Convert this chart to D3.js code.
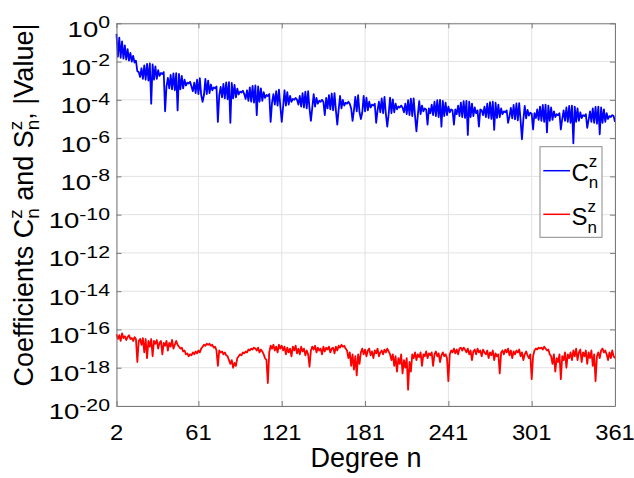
<!DOCTYPE html>
<html>
<head>
<meta charset="utf-8">
<script src="https://cdn.jsdelivr.net/npm/d3@7"></script>
<style>
body { margin: 0; background: #fff; }
svg { display: block; }
text { font-family: "Liberation Sans", Arial, sans-serif; fill: #000; }
</style>
</head>
<body>
<svg id="chart" width="634" height="478"></svg>
<script>
// degree axis
var nFirst = 2, nLast = 361;
var xTicks = [2, 61, 121, 181, 241, 301, 361];
// exponents of the y ticks (10^e)
var yTickExp = [0, -2, -4, -6, -8, -10, -12, -14, -16, -18, -20];

// log10 |C_n^z|, n = 2..361
var cExp = [
  // n 2-17
  -0.55,-1.75,-0.75,-1.8,-0.95,-1.85,-1.15,-1.9,-1.35,-1.95,-1.55,-2.0,-1.7,-2.05,-1.95,-2.5,
  // n 18-36
  -2.55,-2.8,-2.35,-2.9,-2.2,-2.95,-2.12,-3.0,-2.1,-4.2,-2.15,-2.95,-2.25,-2.9,-2.45,-2.75,-2.6,-2.65,-2.55,
  // n 37-55
  -4.6,-3.3,-2.85,-3.4,-2.7,-3.45,-2.62,-3.5,-2.6,-4.55,-2.65,-3.45,-2.75,-3.4,-2.95,-3.25,-3.1,-3.15,-3.05,
  // n 56-74
  -3.3,-3.55,-3.1,-3.65,-2.95,-3.7,-2.87,-3.75,-4.1,-3.75,-2.9,-3.7,-3.0,-3.65,-3.2,-3.5,-3.35,-3.4,-3.3,
  // n 75-93
  -5.15,-3.77,-3.32,-3.87,-3.17,-3.92,-3.09,-3.97,-3.07,-5.2,-3.12,-3.92,-3.22,-3.87,-3.42,-3.72,-3.57,-3.62,-3.52,
  // n 94-112
  -3.7,-3.95,-3.5,-4.05,-3.35,-4.1,-3.27,-4.15,-3.25,-4.8,-3.3,-4.1,-3.4,-4.05,-3.6,-3.9,-3.75,-3.8,-3.7,
  // n 113-131
  -5.15,-4.15,-3.7,-4.25,-3.55,-4.3,-3.47,-4.35,-5.15,-4.35,-3.5,-4.3,-3.6,-4.25,-3.8,-4.1,-3.95,-4.0,-3.9,
  // n 132-150
  -4.0,-4.25,-3.8,-4.35,-3.65,-4.4,-3.57,-4.45,-3.55,-4.45,-5.1,-4.4,-3.7,-4.35,-3.9,-4.2,-4.05,-4.1,-4.0,
  // n 151-169
  -4.1,-4.8,-3.9,-4.45,-3.75,-4.5,-3.67,-4.55,-3.65,-4.55,-5.3,-4.5,-3.8,-4.45,-4.0,-4.3,-4.15,-4.2,-4.1,
  // n 170-188
  -4.2,-4.45,-5.1,-4.55,-3.84,-4.6,-3.76,-4.65,-5.0,-4.65,-3.79,-4.6,-3.89,-4.55,-4.1,-4.4,-4.25,-4.3,-4.2,
  // n 189-207
  -5.2,-4.55,-4.1,-4.65,-3.93,-4.7,-3.85,-4.75,-5.4,-4.75,-3.88,-4.7,-3.98,-4.65,-4.2,-4.5,-4.35,-4.4,-4.3,
  // n 208-226
  -4.4,-4.65,-4.2,-4.75,-4.02,-4.8,-3.94,-4.85,-3.92,-4.85,-5.65,-4.8,-4.07,-4.75,-4.3,-4.6,-4.45,-4.5,-5.3,
  // n 227-245
  -4.45,-4.7,-4.25,-4.8,-4.1,-4.85,-4.02,-4.9,-4.0,-5.4,-4.05,-4.85,-4.15,-4.8,-4.35,-4.65,-4.5,-4.55,-5.3,
  // n 246-264
  -4.5,-4.75,-4.3,-4.85,-4.15,-4.9,-4.07,-4.95,-4.05,-5.83,-4.1,-4.9,-4.2,-4.85,-4.4,-4.7,-4.55,-5.4,-4.5,
  // n 265-283
  -4.55,-4.8,-4.35,-4.9,-4.2,-4.95,-4.12,-5.0,-4.1,-5.57,-4.15,-4.95,-4.25,-4.9,-4.45,-4.75,-4.6,-4.65,-4.55,
  // n 284-302
  -5.2,-4.87,-4.42,-4.97,-4.27,-5.02,-4.19,-5.07,-4.17,-5.07,-6.06,-5.02,-4.32,-4.97,-4.52,-4.82,-4.67,-4.72,-5.55,
  // n 303-321
  -4.7,-4.95,-4.5,-5.05,-4.35,-5.1,-4.27,-5.15,-4.25,-5.7,-4.3,-5.1,-4.4,-5.05,-4.6,-4.9,-4.75,-4.8,-4.7,
  // n 322-340
  -5.55,-5.0,-4.55,-5.1,-4.4,-5.15,-4.32,-5.2,-4.3,-6.27,-4.35,-5.15,-4.45,-5.1,-4.65,-4.95,-4.8,-4.85,-4.75,
  // n 341-359
  -5.47,-5.05,-4.6,-5.15,-4.45,-5.2,-4.37,-5.25,-4.35,-5.8,-4.4,-5.2,-4.5,-5.15,-4.7,-5.0,-4.85,-4.9,-4.8,
  // n 360-361
  -4.85,-5.15
];

// log10 |S_n^z|, n = 2..361
var sExp = [
  -16.25,-16.5,-16.3,-16.6,-16.2,-16.45,-16.35,-16.55,-16.4,-16.3,     // 2-11
  -16.5,-16.45,-16.6,-16.4,-16.5,-17.7,-16.6,-16.5,-16.8,-16.45,       // 12-21
  -17.2,-16.5,-17.5,-16.6,-16.9,-16.5,-17.4,-16.6,-16.75,-16.55,       // 22-31
  -17.0,-16.7,-16.6,-17.3,-16.7,-16.85,-16.6,-17.1,-16.7,-16.9,        // 32-41
  -16.55,-17.0,-16.8,-16.6,-16.8,-16.9,-17.0,-16.95,-17.15,-17.1,      // 42-51
  -17.3,-17.25,-17.4,-17.3,-17.35,-17.2,-17.3,-17.15,-17.25,-17.1,     // 52-61
  -17.2,-17.0,-16.9,-16.8,-16.85,-16.75,-16.8,-16.75,-16.85,-16.8,     // 62-71
  -16.95,-16.9,-17.1,-17.9,-17.1,-17.2,-17.15,-17.3,-17.2,-17.35,      // 72-81
  -17.4,-17.6,-17.8,-17.6,-18.0,-17.75,-17.9,-17.5,-17.4,-17.3,        // 82-91
  -17.35,-17.2,-17.25,-17.15,-17.2,-17.05,-17.1,-17.0,-17.05,-16.95,   // 92-101
  -17.0,-17.1,-16.95,-17.2,-17.05,-17.15,-17.3,-17.5,-17.6,-18.8,      // 102-111
  -17.2,-16.85,-17.0,-16.8,-17.1,-16.9,-17.2,-16.8,-17.0,-16.85,       // 112-121
  -17.1,-16.9,-17.3,-16.95,-17.2,-17.0,-17.4,-16.9,-17.1,-16.85,       // 122-131
  -17.25,-17.0,-17.3,-16.9,-17.15,-17.0,-17.35,-17.1,-17.3,-17.95,     // 132-141
  -17.1,-16.9,-17.05,-16.85,-17.2,-16.95,-17.1,-17.0,-17.3,-16.9,      // 142-151
  -17.15,-16.95,-17.05,-16.9,-17.2,-17.0,-16.95,-17.25,-16.9,-17.1,    // 152-161
  -16.85,-16.95,-16.8,-16.9,-16.85,-17.0,-17.1,-17.5,-17.2,-17.9,      // 162-171
  -17.3,-18.1,-17.4,-18.4,-17.3,-17.8,-17.2,-17.0,-17.3,-17.05,        // 172-181
  -17.4,-17.1,-17.0,-17.35,-17.15,-17.5,-17.1,-17.25,-17.0,-17.4,      // 182-191
  -17.2,-17.1,-17.3,-17.05,-17.2,-17.0,-17.15,-17.3,-17.6,-17.3,       // 192-201
  -17.9,-17.4,-18.2,-17.5,-17.8,-17.3,-18.3,-17.6,-18.0,-17.5,         // 202-211
  -19.15,-17.7,-18.2,-17.3,-17.5,-17.2,-17.6,-17.3,-17.45,-17.2,       // 212-221
  -17.9,-17.3,-17.4,-17.15,-17.5,-17.25,-17.35,-17.2,-17.9,-17.3,      // 222-231
  -17.15,-17.4,-17.25,-17.7,-17.35,-17.2,-17.4,-17.3,-17.5,-18.7,      // 232-241
  -17.3,-17.1,-17.2,-17.0,-17.25,-17.05,-17.3,-17.0,-16.95,-17.1,      // 242-251
  -16.95,-17.05,-17.2,-17.0,-17.3,-17.1,-17.6,-17.15,-17.05,-17.3,     // 252-261
  -17.0,-17.2,-17.1,-17.4,-17.05,-17.2,-17.3,-17.1,-17.5,-17.2,        // 262-271
  -17.35,-17.1,-17.6,-17.25,-17.4,-17.3,-18.3,-17.2,-17.1,-17.3,       // 272-281
  -17.05,-17.2,-17.0,-17.35,-17.1,-17.5,-17.15,-17.3,-17.1,-17.2,      // 282-291
  -17.05,-17.4,-17.2,-17.6,-17.3,-17.15,-17.35,-17.5,-17.3,-18.6,      // 292-301
  -17.4,-17.1,-17.0,-17.05,-16.95,-17.0,-16.95,-17.05,-16.9,-17.0,     // 302-311
  -17.1,-17.05,-17.3,-17.4,-17.8,-17.3,-18.2,-17.5,-17.7,-17.3,        // 312-321
  -18.6,-17.4,-17.6,-17.2,-18.0,-17.3,-17.5,-17.2,-17.6,-17.1,         // 322-331
  -17.4,-17.0,-17.6,-17.2,-17.05,-17.7,-17.2,-17.4,-17.1,-17.8,        // 332-341
  -17.2,-17.5,-17.1,-17.9,-17.3,-18.7,-17.4,-17.2,-17.5,-17.1,         // 342-351
  -17.0,-17.2,-17.1,-17.3,-17.6,-17.2,-17.5,-17.1,-17.4,-17.5          // 352-361
];

var seriesNames = ["C", "S"];
var seriesColors = ["#0000ff", "#ff0000"];

var svg = d3.select("#chart");
var plotL = 116.5, plotR = 615, plotT = 23.3, plotB = 406;
var axisGray = "#7a7a7a", gridGray = "#e2e2e2";

var x = d3.scaleLinear().domain([nFirst, nLast]).range([plotL, plotR]);
var y = d3.scaleLog().domain([1e-20, 1]).range([plotB, plotT]);

// grid
var grid = svg.append("g");
grid.selectAll("line.gx").data(xTicks).join("line").attr("class", "gx")
  .attr("x1", d => x(d)).attr("x2", d => x(d)).attr("y1", plotT).attr("y2", plotB)
  .attr("stroke", gridGray).attr("stroke-width", 1);
grid.selectAll("line.gy").data(yTickExp).join("line").attr("class", "gy")
  .attr("x1", plotL).attr("x2", plotR).attr("y1", d => y(Math.pow(10, d))).attr("y2", d => y(Math.pow(10, d)))
  .attr("stroke", gridGray).attr("stroke-width", 1);

// series
var line = d3.line().x(d => x(d.n)).y(d => y(Math.pow(10, d.v)));
[cExp, sExp].forEach(function (arr, k) {
  var pts = arr.map(function (v, i) { return { n: nFirst + i, v: v }; });
  svg.append("path").datum(pts).attr("d", line)
    .attr("fill", "none").attr("stroke", seriesColors[k]).attr("stroke-width", 1.8)
    .attr("stroke-linejoin", "round");
});

// axes (tick marks only, inward)
var yTickVals = yTickExp.map(e => Math.pow(10, e));
function styleAxis(g) {
  g.selectAll("path").attr("stroke", axisGray);
  g.selectAll("line").attr("stroke", axisGray);
}
svg.append("g").attr("transform", "translate(0," + plotB + ")")
  .call(d3.axisBottom(x).tickValues(xTicks).tickSize(-5).tickSizeOuter(0).tickFormat("")).call(styleAxis);
svg.append("g").attr("transform", "translate(0," + plotT + ")")
  .call(d3.axisTop(x).tickValues(xTicks).tickSize(-5).tickSizeOuter(0).tickFormat("")).call(styleAxis);
svg.append("g").attr("transform", "translate(" + plotL + ",0)")
  .call(d3.axisLeft(y).tickValues(yTickVals).tickSize(-5).tickSizeOuter(0).tickFormat("")).call(styleAxis);
svg.append("g").attr("transform", "translate(" + plotR + ",0)")
  .call(d3.axisRight(y).tickValues(yTickVals).tickSize(-5).tickSizeOuter(0).tickFormat("")).call(styleAxis);

// tick labels
yTickExp.forEach(function (e) {
  var t = svg.append("g")
    .attr("transform", "translate(110," + (y(Math.pow(10, e)) + 13.4) + ") scale(1.25,1)")
    .append("text").attr("text-anchor", "end").style("font-size", "22px");
  t.append("tspan").text("10");
  t.append("tspan").attr("dy", -8.5).style("font-size", "17px").text(e === 0 ? "0" : "-" + (-e));
});
xTicks.forEach(function (d) {
  svg.append("g").attr("transform", "translate(" + x(d) + ",440) scale(1.08,1)")
    .append("text").attr("text-anchor", "middle").style("font-size", "22px").text(d);
});

// axis labels
svg.append("text").attr("x", 366).attr("y", 467).attr("text-anchor", "middle")
  .style("font-size", "27px").text("Degree n");

var yl = svg.append("g").attr("transform", "translate(33,205) rotate(-90)")
  .append("text").attr("text-anchor", "middle").style("font-size", "27px");
yl.append("tspan").text("Coefficients C");
yl.append("tspan").attr("dy", -11).style("font-size", "19px").text("z");
yl.append("tspan").attr("dx", -9.5).attr("dy", 17).style("font-size", "19px").text("n");
yl.append("tspan").attr("dy", -6).text(" and S");
yl.append("tspan").attr("dy", -11).style("font-size", "19px").text("z");
yl.append("tspan").attr("dx", -9.5).attr("dy", 17).style("font-size", "19px").text("n");
yl.append("tspan").attr("dy", -6).text(", |Value|");

// legend
var leg = svg.append("g");
leg.append("rect").attr("x", 540).attr("y", 146.7).attr("width", 62).attr("height", 90.6)
  .attr("fill", "#fff").attr("stroke", "#8a8a8a").attr("stroke-width", 1);
var legRows = [{ ly: 170.7, tb: 180.7 }, { ly: 214.3, tb: 225 }];
seriesNames.forEach(function (name, k) {
  var r = legRows[k];
  leg.append("line").attr("x1", 543.3).attr("x2", 570).attr("y1", r.ly).attr("y2", r.ly)
    .attr("stroke", seriesColors[k]).attr("stroke-width", 1.5);
  var t = leg.append("text").attr("x", 571.5).attr("y", r.tb).style("font-size", "24px");
  t.append("tspan").text(name);
  t.append("tspan").attr("dy", -13.5).style("font-size", "17px").text("z");
  t.append("tspan").attr("dx", -8.5).attr("dy", 21).style("font-size", "17px").text("n");
});
</script>
</body>
</html>
